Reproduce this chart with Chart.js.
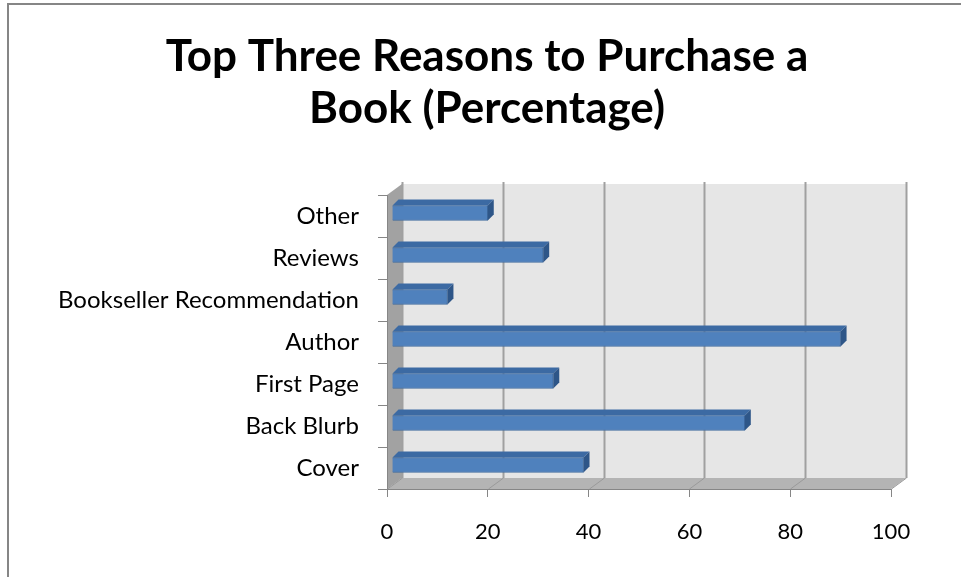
<!doctype html>
<html lang="en">
<head>
    <meta charset="utf-8">
    <style>
        html,
        body {
            margin: 0;
            padding: 0;
            background: #fff;
        }
    </style>
    <script src="https://cdn.jsdelivr.net/npm/chart.js@4/dist/chart.umd.min.js"></script>
</head>
<body>
    <canvas id="myChart" width="961" height="577"></canvas>

    <script>
        // data, top to bottom
        const titleLines = ['Top Three Reasons to Purchase a', 'Book (Percentage)'];
        const reasons = ['Other', 'Reviews', 'Bookseller Recommendation', 'Author', 'First Page', 'Back Blurb', 'Cover'];
        const percentages = [19, 30, 11, 89, 32, 70, 38];
        const xTicks = [0, 20, 40, 60, 80, 100];

        // 3d depth of the plot box and of the bars
        const DX = 15, DY = 11;
        const BX = 6, BY = 6;

        const fontFamily = 'Lato, "Liberation Sans", sans-serif';

        // walls, floor, gridlines and the title
        const box3d = {
            id: 'box3d',
            beforeDraw(chart) {
                const ctx = chart.ctx;
                const a = chart.chartArea;
                const xs = chart.scales.x;
                ctx.save();

                // frame of the chart object (only left and top show)
                ctx.strokeStyle = '#868686';
                ctx.lineWidth = 2;
                ctx.beginPath();
                ctx.moveTo(8, 600);
                ctx.lineTo(8, 4);
                ctx.lineTo(990, 4);
                ctx.stroke();

                // back wall
                ctx.fillStyle = '#e6e6e6';
                ctx.fillRect(a.left + DX, a.top - DY, a.right - a.left, a.bottom - a.top);

                // floor
                ctx.fillStyle = '#b4b4b4';
                ctx.beginPath();
                ctx.moveTo(a.left, a.bottom);
                ctx.lineTo(a.right, a.bottom);
                ctx.lineTo(a.right + DX, a.bottom - DY);
                ctx.lineTo(a.left + DX, a.bottom - DY);
                ctx.closePath();
                ctx.fill();

                // left wall
                ctx.fillStyle = '#a2a2a2';
                ctx.beginPath();
                ctx.moveTo(a.left, a.top);
                ctx.lineTo(a.left + DX, a.top - DY);
                ctx.lineTo(a.left + DX, a.bottom - DY);
                ctx.lineTo(a.left, a.bottom);
                ctx.closePath();
                ctx.fill();

                // gridlines on the back wall and the floor
                xTicks.forEach(v => {
                    const x = Math.round(xs.getPixelForValue(v)) + 0.5;
                    ctx.strokeStyle = '#a0a0a0';
                    ctx.lineWidth = 2;
                    ctx.beginPath();
                    ctx.moveTo(x + DX, a.top - DY - 2);
                    ctx.lineTo(x + DX, a.bottom - DY);
                    ctx.stroke();
                    ctx.strokeStyle = '#9a9a9a';
                    ctx.lineWidth = 1;
                    ctx.beginPath();
                    ctx.moveTo(x, a.bottom);
                    ctx.lineTo(x + DX, a.bottom - DY);
                    ctx.stroke();
                });

                // title
                ctx.fillStyle = '#000';
                ctx.font = 'bold 44px ' + fontFamily;
                ctx.textAlign = 'center';
                ctx.textBaseline = 'alphabetic';
                titleLines.forEach((t, i) => ctx.fillText(t, 487, 71 + i * 52));
                ctx.restore();
            }
        };

        // bars sit in the middle of the depth, with a top and an end face
        const bars3d = {
            id: 'bars3d',
            beforeDatasetsDraw(chart) {
                chart.ctx.save();
                chart.ctx.translate(5, -3);
            },
            afterDatasetsDraw(chart) {
                const ctx = chart.ctx;
                const meta = chart.getDatasetMeta(0);
                meta.data.forEach(bar => {
                    const p = bar.getProps(['x', 'y', 'base', 'height'], true);
                    const top = p.y - p.height / 2;
                    const bottom = p.y + p.height / 2;
                    ctx.fillStyle = '#3c6aa3';
                    ctx.beginPath();
                    ctx.moveTo(p.base, top);
                    ctx.lineTo(p.x, top);
                    ctx.lineTo(p.x + BX, top - BY);
                    ctx.lineTo(p.base + BX, top - BY);
                    ctx.closePath();
                    ctx.fill();
                    ctx.fillStyle = '#2e5688';
                    ctx.beginPath();
                    ctx.moveTo(p.x, top);
                    ctx.lineTo(p.x + BX, top - BY);
                    ctx.lineTo(p.x + BX, bottom - BY);
                    ctx.lineTo(p.x, bottom);
                    ctx.closePath();
                    ctx.fill();
                });
                ctx.restore();
            }
        };

        const ctx = document.getElementById('myChart');
        const myChart = new Chart(ctx, {
            type: 'bar',
            data: {
                labels: reasons,
                datasets: [{
                    data: percentages,
                    backgroundColor: '#4f81bd',
                    borderColor: '#3f6a9e',
                    borderWidth: 1,
                    barThickness: 15
                }]
            },
            plugins: [box3d, bars3d],
            options: {
                indexAxis: 'y',
                responsive: false,
                animation: false,
                layout: {
                    padding: { left: 0, right: 70, top: 195, bottom: 0 }
                },
                plugins: {
                    legend: { display: false },
                    title: { display: false },
                    tooltip: { enabled: false }
                },
                scales: {
                    x: {
                        min: 0,
                        max: 100,
                        ticks: {
                            stepSize: 20,
                            color: '#000',
                            padding: 22,
                            font: { family: fontFamily, size: 22 }
                        },
                        grid: {
                            drawOnChartArea: false,
                            tickLength: 8,
                            color: '#868686'
                        },
                        border: { color: '#868686' },
                        afterFit(scale) { scale.height = 88; }
                    },
                    y: {
                        ticks: {
                            color: '#000',
                            padding: 19,
                            font: { family: fontFamily, size: 24 }
                        },
                        grid: {
                            drawOnChartArea: false,
                            tickLength: 9,
                            color: '#868686'
                        },
                        border: { color: '#868686' },
                        afterFit(scale) { scale.width = 387; }
                    }
                }
            }
        });
    </script>
</body>
</html>
